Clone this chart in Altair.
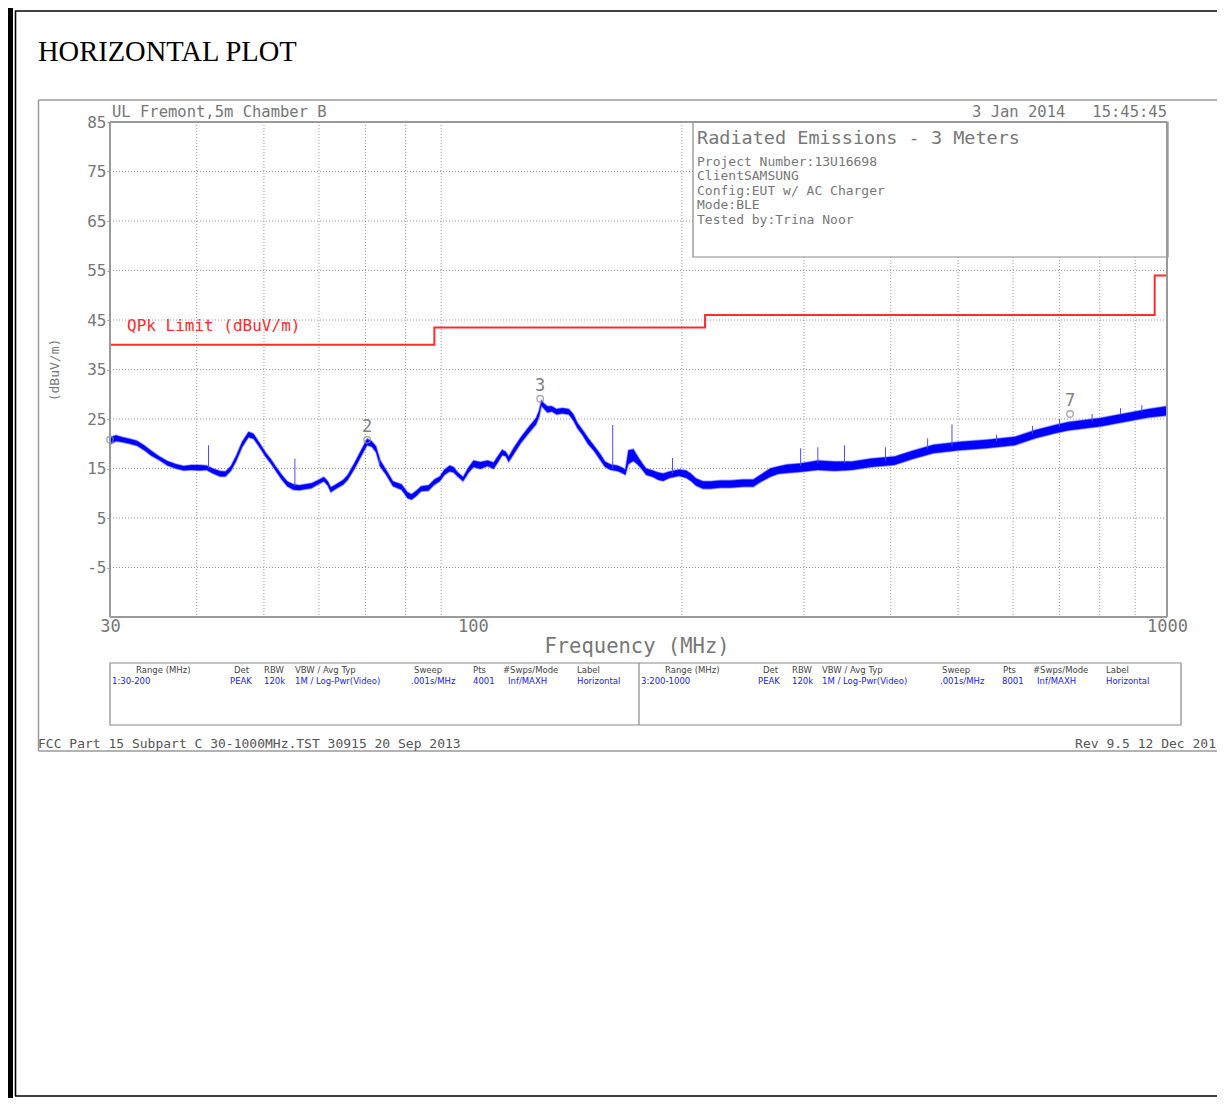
import altair as alt
import pandas as pd

# ---------------- data ----------------
TRACE_F = [30.0, 30.6, 31.3, 32.0, 32.8, 33.6, 34.4, 35.3, 36.3, 37.3, 38.3, 39.3, 40.4, 41.3,
           42.2, 43.2, 44.0, 44.8, 45.6, 46.5, 47.5, 48.3, 49.2, 50.3, 51.2, 52.0, 53.0, 54.0,
           55.1, 56.2, 57.3, 58.5, 59.7, 61.0, 61.8, 62.4, 63.5, 65.0, 66.0, 67.5, 69.0, 70.4,
           71.5, 72.5, 73.5, 75.0, 76.7, 78.9, 80.5, 81.6, 83.0, 84.2, 86.3, 88.0, 89.6, 91.0,
           92.6, 93.8, 95.0, 96.8, 98.5, 100.2, 102.5, 105.0, 107.1, 108.5, 110.2, 111.5, 112.6,
           114.5, 117.2, 120.0, 123.3, 124.6, 125.5, 126.5, 128.0, 129.9, 132.0, 134.5, 137.5,
           139.5, 141.5, 143.9, 146.5, 149.5, 152.5, 155.0, 158.0, 161.4, 164.0, 165.8, 167.5,
           170.3, 173.0, 175.5, 177.7, 181.6, 185.0, 188.0, 192.0, 198.3, 202.9, 206.0, 209.7,
           214.6, 220.0, 227.0, 235.0, 245.0, 253.5, 260.0, 268.0, 275.0, 283.4, 296.0, 314.0,
           332.0, 351.6, 375.0, 404.8, 430.0, 460.9, 503.4, 550.0, 603.5, 646.4, 690.0, 720.9,
           760.0, 802.0, 845.0, 891.5, 940.0, 1000.0]
TRACE_LO = [19.9, 20.5, 20.3, 20.0, 19.6, 18.7, 17.6, 16.7, 15.6, 15.0, 14.6, 14.7, 14.6, 14.7,
            14.0, 13.4, 13.4, 14.5, 16.5, 19.3, 21.3, 21.0, 19.4, 17.3, 15.9, 14.5, 12.8, 11.4,
            10.7, 10.6, 10.8, 11.0, 11.7, 12.4, 11.5, 10.2, 10.9, 11.7, 12.7, 14.9, 17.4, 19.7,
            19.4, 18.3, 15.4, 13.7, 11.4, 10.7, 9.0, 8.7, 9.5, 10.4, 10.5, 11.7, 12.4, 13.7,
            14.4, 14.2, 13.4, 12.4, 14.1, 15.3, 14.9, 15.5, 14.9, 16.1, 17.7, 17.5, 16.3,
            17.9, 20.1, 21.9, 23.9, 25.5, 27.7, 27.1, 26.3, 26.5, 25.9, 26.1, 25.9,
            24.7, 23.1, 21.7, 19.9, 18.5, 16.7, 15.3, 14.7, 14.5, 14.1, 13.7, 15.9,
            16.5, 15.7, 14.7, 13.7, 13.3, 12.7, 12.5, 13.1, 13.5, 13.1, 12.5, 11.5,
            10.9, 10.9, 11.1, 11.1, 11.3, 11.3, 12.3, 13.3, 13.9, 14.1, 14.3, 14.7,
            14.5, 14.7, 15.3, 15.7, 16.9, 18.1, 18.7, 19.1, 19.7, 21.1, 22.1, 22.7,
            23.1, 23.5, 24.1, 24.7, 25.3, 25.7]
TRACE_HI = [21.3, 21.7, 21.3, 21.0, 20.6, 19.7, 18.6, 17.5, 16.5, 15.9, 15.5, 15.7, 15.7, 15.6,
            15.0, 14.5, 14.4, 15.5, 17.6, 20.4, 22.4, 22.0, 20.3, 18.2, 16.8, 15.4, 13.8, 12.4,
            11.8, 11.6, 11.8, 12.0, 12.6, 13.3, 12.4, 11.2, 11.8, 12.7, 13.7, 16.1, 18.7, 21.0,
            20.5, 19.5, 16.7, 14.7, 12.4, 11.8, 10.2, 9.8, 10.6, 11.4, 11.6, 12.8, 13.4, 14.8,
            15.6, 15.3, 14.3, 13.3, 15.2, 16.6, 16.3, 16.6, 16.2, 17.4, 18.8, 18.4, 17.4,
            19.2, 21.3, 23.2, 25.2, 26.8, 28.8, 28.2, 27.6, 27.6, 27.0, 27.2, 27.0,
            26.0, 24.2, 22.8, 21.2, 19.6, 18.0, 16.4, 15.8, 15.6, 15.2, 14.8, 18.7,
            18.9, 17.3, 16.0, 15.0, 14.6, 14.2, 14.0, 14.4, 14.8, 14.6, 14.0, 13.0,
            12.4, 12.4, 12.6, 12.6, 12.8, 12.8, 13.8, 15.0, 15.4, 15.8, 16.0, 16.6,
            16.4, 16.4, 17.0, 17.4, 18.6, 19.8, 20.4, 20.8, 21.4, 22.8, 23.8, 24.4,
            24.8, 25.2, 25.8, 26.4, 27.0, 27.6]

SPIKE_F = [41.6, 55.4, 73.4, 159.0, 193.9, 296.6, 314.0, 343.0, 393.0, 452.0, 490.0, 568.0,
           640.0, 700.0, 780.0, 857.0, 920.0, 998.0]
SPIKE_LO = [15.0, 11.5, 15.5, 15.0, 14.0, 15.5, 16.0, 16.0, 16.5, 19.0, 19.5, 20.5,
            22.0, 23.5, 24.5, 26.0, 26.5, 27.0]
SPIKE_HI = [19.7, 17.0, 17.2, 23.8, 17.1, 19.1, 19.3, 19.7, 19.3, 21.1, 23.9, 21.8,
            23.6, 25.0, 26.0, 27.2, 27.8, 28.8]

LIMIT_F = [30, 88, 216, 960, 1000]
LIMIT_DB = [40, 43.5, 46, 54, 54]

MARKER_ID = ["2", "3", "7"]
MARKER_F = [70.4, 125.0, 725.0]
MARKER_DB = [20.8, 29.1, 26.0]
MARKER1_F = [30.0]
MARKER1_DB = [20.8]

GRID_F = [40, 50, 60, 70, 80, 90, 200, 300, 400, 500, 600, 700, 800, 900]
GRID_DB = [75, 65, 55, 45, 35, 25, 15, 5, -5]
Y_TICKS = [85, 75, 65, 55, 45, 35, 25, 15, 5, -5]
X_TICKS = [30, 100, 1000]

# ---------------- layout / style ----------------
W, H = 1057, 495          # plot area (page x 110..1167, y 122..617)
OX, OY = 110, 122         # page position of plot origin
TOTAL_W, TOTAL_H = 1209, 1090
RIGHT_EDGE = 8 + TOTAL_W  # last visible page x
MONO = "DejaVu Sans Mono"
SANS = "DejaVu Sans"
SERIF = "Liberation Serif"
GRAY = "#777777"
LINEG = "#9a9a9a"
BLUE = "#0000ff"
RED = "#ff2a2a"


def P(x, y):
    return x - OX, y - OY


xs = alt.Scale(type="log", domain=[30, 1000], nice=False)
ys = alt.Scale(domain=[-15, 85], nice=False, zero=False)

x_axis = alt.Axis(values=X_TICKS, labelExpr="'' + datum.value", labelFont=MONO, labelFontSize=17,
                  labelColor=GRAY, ticks=False, domain=False, grid=False, title=None,
                  labelPadding=1, labelFlush=False, labelOverlap=False)
y_axis = alt.Axis(values=Y_TICKS, labelExpr="'' + datum.value", labelFont=MONO, labelFontSize=16,
                  labelColor=GRAY, tickColor=LINEG, tickSize=3, domain=False, grid=False,
                  title=None, labelPadding=1, labelOverlap=False)


def FX(field):
    return alt.X(field, scale=xs, axis=x_axis)


def FY(field):
    return alt.Y(field, scale=ys, axis=y_axis)


NX = alt.X("x:Q", scale=None, axis=None)
NY = alt.Y("y:Q", scale=None, axis=None)

trace_df = pd.DataFrame({"f": TRACE_F, "lo": TRACE_LO, "hi": TRACE_HI})

# grid
grid_v = alt.Chart(pd.DataFrame({"f": GRID_F})).mark_rule(
    color=LINEG, strokeDash=[1, 2], strokeWidth=1).encode(x=FX("f:Q"))
grid_h = alt.Chart(pd.DataFrame({"db": GRID_DB})).mark_rule(
    color=LINEG, strokeDash=[1, 2], strokeWidth=1).encode(y=FY("db:Q"))

# boxes (rects)
rects = []
for (x1, y1, x2, y2) in [(693, 122, 1168, 257), (110, 663, 1181, 725)]:
    a, b = P(x1, y1)
    c, d = P(x2, y2)
    rects.append({"x": a, "y": b, "x2": c, "y2": d})
box = alt.Chart(pd.DataFrame(rects)).mark_rect(fill="white", stroke="#8a8a8a", strokeWidth=1.2).encode(
    x=NX, y=NY, x2="x2:Q", y2="y2:Q")

# limit line
limit = alt.Chart(pd.DataFrame({"f": LIMIT_F, "db": LIMIT_DB})).mark_line(
    color=RED, strokeWidth=2, interpolate="step-after").encode(x=FX("f:Q"), y=FY("db:Q"))

# trace band (light halo + solid core)
halo = alt.Chart(trace_df).mark_area(
    fill="#7777ff", stroke="#8888ff", strokeWidth=2, opacity=0.45).encode(
    x=FX("f:Q"), y=FY("lo:Q"), y2="hi:Q")
trace = alt.Chart(trace_df).mark_area(
    fill=BLUE, stroke="#3333ff", strokeWidth=0.6, strokeOpacity=0.7).encode(
    x=FX("f:Q"), y=FY("lo:Q"), y2="hi:Q")

spikes = alt.Chart(pd.DataFrame({"f": SPIKE_F, "lo": SPIKE_LO, "hi": SPIKE_HI})).mark_rule(
    color="#4a4aff", strokeWidth=1).encode(x=FX("f:Q"), y=FY("lo:Q"), y2="hi:Q")

# markers
mk_df = pd.DataFrame({"id": MARKER_ID, "f": MARKER_F, "db": MARKER_DB})
mk_all = pd.concat([mk_df, pd.DataFrame({"id": [""], "f": MARKER1_F, "db": MARKER1_DB})])
mk_pts = alt.Chart(mk_all).mark_point(
    shape="circle", filled=False, color="#8a8a8a", size=42, strokeWidth=1.4).encode(
    x=FX("f:Q"), y=FY("db:Q"))
mk_txt = alt.Chart(mk_df).mark_text(font=MONO, fontSize=17, color="#808080", dy=-13, baseline="middle").encode(
    x=FX("f:Q"), y=FY("db:Q"), text="id:N")

# frame / border lines (page coords)
LINES = [
    # page double border
    (10.5, 8, 10.5, 1098, "black", 5),
    (15.5, 11, 15.5, 1096, "black", 1.6),
    (15, 11, RIGHT_EDGE, 11, "black", 1.6),
    (15, 1096, RIGHT_EDGE, 1096, "black", 1.6),
    # graph outer box
    (38.5, 100, RIGHT_EDGE, 100, LINEG, 1.5),
    (38.5, 100, 38.5, 751, LINEG, 1.5),
    (38.5, 751, RIGHT_EDGE, 751, LINEG, 1.5),
    # plot frame
    (110, 122, 1167, 122, LINEG, 2),
    (110, 617, 1167, 617, LINEG, 2),
    (110, 122, 110, 617, LINEG, 2),
    (1167, 122, 1167, 617, LINEG, 2),
    # table divider
    (639, 663, 639, 725, "#8a8a8a", 1.2),
]
ln_rows = []
for (x1, y1, x2, y2, c, w) in LINES:
    a, b = P(x1, y1)
    cc, d = P(x2, y2)
    ln_rows.append({"x": a, "y": b, "x2": cc, "y2": d, "c": c, "w": w})
lines = alt.Chart(pd.DataFrame(ln_rows)).mark_rule().encode(
    x=NX, y=NY, x2="x2:Q", y2="y2:Q",
    color=alt.Color("c:N", scale=None, legend=None),
    strokeWidth=alt.StrokeWidth("w:Q", scale=None, legend=None))


def text_layer(rows, font, align, baseline="middle", angle=0):
    recs = []
    for (t, x, y, s, c) in rows:
        a, b = P(x, y)
        recs.append({"t": t, "x": a, "y": b, "s": s, "c": c})
    return alt.Chart(pd.DataFrame(recs)).mark_text(font=font, align=align, baseline=baseline, angle=angle).encode(
        x=NX, y=NY, text="t:N",
        size=alt.Size("s:Q", scale=None, legend=None),
        color=alt.Color("c:N", scale=None, legend=None))


TXT_LEFT = [
    ("UL Fremont,5m Chamber B", 112, 112, 15.5, GRAY),
    ("3 Jan 2014", 972, 112, 15.5, GRAY),
    ("Radiated Emissions - 3 Meters", 697, 137.5, 18.5, GRAY),
    ("Project Number:13U16698", 697, 161.5, 13, GRAY),
    ("ClientSAMSUNG", 697, 176, 13, GRAY),
    ("Config:EUT w/ AC Charger", 697, 190.5, 13, GRAY),
    ("Mode:BLE", 697, 205, 13, GRAY),
    ("Tested by:Trina Noor", 697, 219.5, 13, GRAY),
    ("QPk Limit (dBuV/m)", 127, 326, 16, RED),
    ("FCC Part 15 Subpart C 30-1000MHz.TST 30915 20 Sep 2013", 38, 744, 13, "#555555"),
]
TXT_RIGHT = [("15:45:45", 1167, 112, 15.5, GRAY),
             ("Rev 9.5 12 Dec 201", RIGHT_EDGE - 1, 744, 13, "#555555")]
TXT_CENTER = [("Frequency (MHz)", 637, 647, 20.5, GRAY)]
TXT_ROT = [("(dBuV/m)", 55, 370, 13, GRAY)]
TXT_SERIF = [("HORIZONTAL PLOT", 38, 61, 28.5, "black")]

HDR = "#444444"
VAL = "#2020ff"
TABLE = [
    ("Range (MHz)", 136, 670, 8.5, HDR), ("Det", 234, 670, 8.5, HDR), ("RBW", 264, 670, 8.5, HDR),
    ("VBW / Avg Typ", 295, 670, 8.5, HDR), ("Sweep", 414, 670, 8.5, HDR), ("Pts", 473, 670, 8.5, HDR),
    ("#Swps/Mode", 503, 670, 8.5, HDR), ("Label", 577, 670, 8.5, HDR),
    ("1:30-200", 112, 681, 8.5, VAL), ("PEAK", 230, 681, 8.5, VAL), ("120k", 264, 681, 8.5, VAL),
    ("1M / Log-Pwr(Video)", 295, 681, 8.5, VAL), (".001s/MHz", 411, 681, 8.5, VAL),
    ("4001", 473, 681, 8.5, VAL), ("Inf/MAXH", 508, 681, 8.5, VAL), ("Horizontal", 577, 681, 8.5, VAL),
    ("Range (MHz)", 665, 670, 8.5, HDR), ("Det", 763, 670, 8.5, HDR), ("RBW", 792, 670, 8.5, HDR),
    ("VBW / Avg Typ", 822, 670, 8.5, HDR), ("Sweep", 942, 670, 8.5, HDR), ("Pts", 1003, 670, 8.5, HDR),
    ("#Swps/Mode", 1033, 670, 8.5, HDR), ("Label", 1106, 670, 8.5, HDR),
    ("3:200-1000", 641, 681, 8.5, VAL), ("PEAK", 758, 681, 8.5, VAL), ("120k", 792, 681, 8.5, VAL),
    ("1M / Log-Pwr(Video)", 822, 681, 8.5, VAL), (".001s/MHz", 940, 681, 8.5, VAL),
    ("8001", 1002, 681, 8.5, VAL), ("Inf/MAXH", 1037, 681, 8.5, VAL), ("Horizontal", 1106, 681, 8.5, VAL),
]

chart = alt.layer(
    grid_v, grid_h, box, limit, halo, trace, spikes, mk_pts, mk_txt, lines,
    text_layer(TXT_LEFT, MONO, "left"),
    text_layer(TXT_RIGHT, MONO, "right"),
    text_layer(TXT_CENTER, MONO, "center"),
    text_layer(TXT_ROT, MONO, "center", angle=270),
    text_layer(TXT_SERIF, SERIF, "left", baseline="alphabetic"),
    text_layer(TABLE, SANS, "left"),
).properties(
    width=W, height=H, autosize="none",
    padding={"left": OX - 8, "top": OY - 8, "right": TOTAL_W - (OX - 8) - W,
             "bottom": TOTAL_H - (OY - 8) - H},
    background="white",
).configure_view(stroke=None)

chart.save("out.html", embed_options={"renderer": "svg", "actions": False})
